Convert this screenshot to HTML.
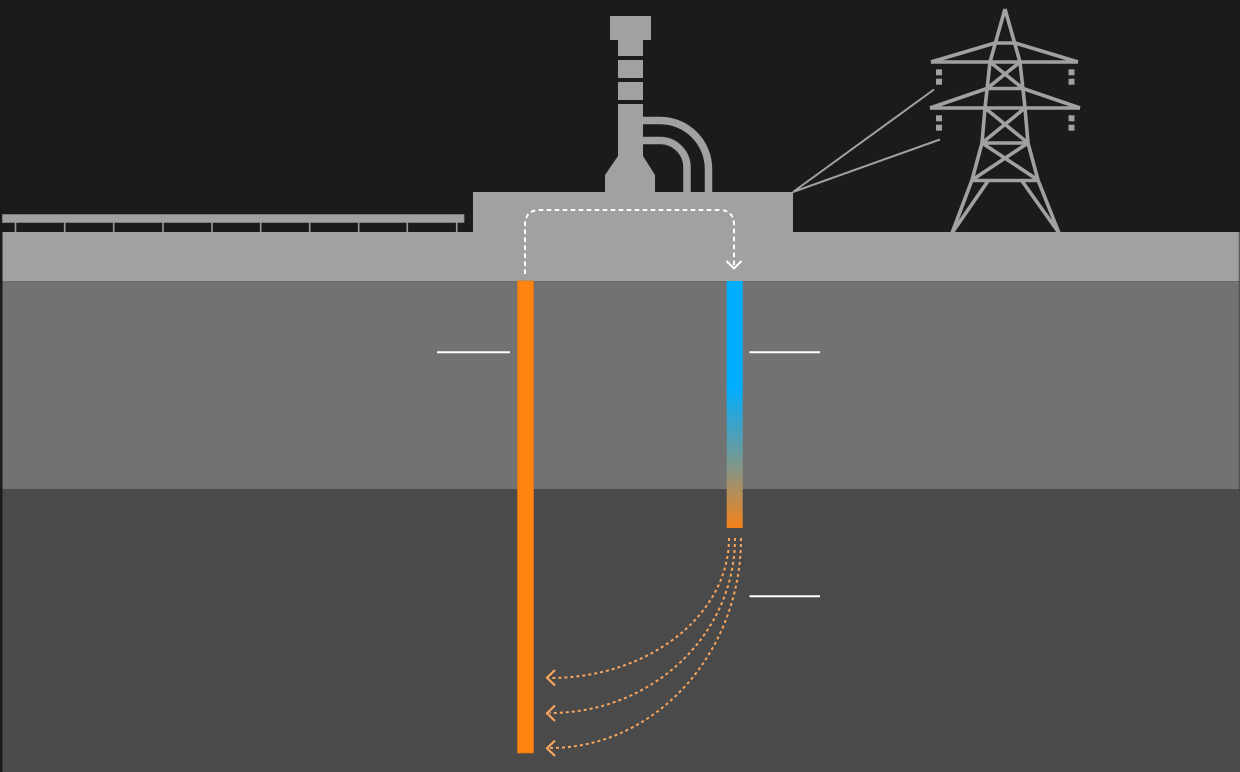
<!DOCTYPE html>
<html><head><meta charset="utf-8"><style>
html,body{margin:0;padding:0;background:#1b1b1b;}
svg{display:block;}
</style></head><body>
<svg width="1240" height="772" viewBox="0 0 1240 772" xmlns="http://www.w3.org/2000/svg">
<defs>
<linearGradient id="bg" x1="0" y1="281" x2="0" y2="528" gradientUnits="userSpaceOnUse">
<stop offset="0" stop-color="#00aeff"/>
<stop offset="0.43" stop-color="#00aeff"/>
<stop offset="0.7" stop-color="#6a9a9e"/>
<stop offset="1" stop-color="#f5821a"/>
</linearGradient>
</defs>
<rect width="1240" height="772" fill="#1b1b1b"/>
<!-- ground layers -->
<rect x="2.5" y="232" width="1237" height="49" fill="#a1a1a1"/>
<rect x="2.5" y="281" width="1237" height="208" fill="#727272"/>
<line x1="2.5" y1="281.5" x2="1239.5" y2="281.5" stroke="#6a6a6a" stroke-width="1"/>
<rect x="2.5" y="489" width="1237" height="283" fill="#4a4a4a"/>
<rect x="1238.5" y="232" width="1.5" height="540" fill="#5a5a5a" opacity="0.5"/>

<!-- solar panels -->
<rect x="2.5" y="214.5" width="461.5" height="8" fill="#a1a1a1" stroke="#888" stroke-width="0.8"/>
<g stroke="#9a9a9a" stroke-width="1.6">
<line x1="15.5" y1="222" x2="15.5" y2="232"/>
<line x1="64.7" y1="222" x2="64.7" y2="232"/>
<line x1="113.7" y1="222" x2="113.7" y2="232"/>
<line x1="163" y1="222" x2="163" y2="232"/>
<line x1="212" y1="222" x2="212" y2="232"/>
<line x1="260.7" y1="222" x2="260.7" y2="232"/>
<line x1="309.7" y1="222" x2="309.7" y2="232"/>
<line x1="358.7" y1="222" x2="358.7" y2="232"/>
<line x1="407.3" y1="222" x2="407.3" y2="232"/>
<line x1="456.7" y1="222" x2="456.7" y2="232"/>
</g>

<!-- power plant -->
<rect x="473" y="192" width="320" height="41" fill="#a1a1a1"/>
<rect x="610" y="16" width="41" height="24" fill="#a1a1a1"/>
<rect x="618" y="40" width="25" height="16" fill="#a1a1a1"/>
<rect x="618" y="60" width="25" height="18" fill="#a1a1a1"/>
<rect x="618" y="82" width="25" height="18" fill="#a1a1a1"/>
<polygon points="618,104 643,104 643,156 655,175 655,193 605,193 605,175 618,156" fill="#a1a1a1"/>
<path d="M642,120.5 H660 A48.5,48.5 0 0 1 708.5,169 V193" fill="none" stroke="#a1a1a1" stroke-width="7.5"/>
<path d="M642,140.5 H660 A27,27 0 0 1 687,167.5 V193" fill="none" stroke="#a1a1a1" stroke-width="7.5"/>

<!-- wires -->
<line x1="793" y1="192" x2="934" y2="89.5" stroke="#a1a1a1" stroke-width="2"/>
<line x1="793" y1="192" x2="940" y2="139.5" stroke="#a1a1a1" stroke-width="2"/>

<!-- pylon -->
<g stroke="#a1a1a1" stroke-width="3.6" fill="none" stroke-linejoin="round" stroke-linecap="butt">
<polyline points="1005,9 990,62 985,108 982,143 972,180 952,233"/>
<polyline points="1005,9 1020,62 1025,108 1028,143 1038,180 1059,233"/>
<line x1="931" y1="62" x2="1078" y2="62"/>
<line x1="931" y1="62" x2="995" y2="43"/>
<line x1="1078" y1="62" x2="1015" y2="43"/>
<line x1="995" y1="43" x2="1015" y2="43"/>
<line x1="930" y1="108" x2="1080" y2="108"/>
<line x1="930" y1="108" x2="987" y2="88.5"/>
<line x1="1080" y1="108" x2="1023" y2="88.5"/>
<line x1="987" y1="88.5" x2="1023" y2="88.5"/>
<line x1="990" y1="62" x2="1023" y2="88.5"/>
<line x1="1020" y1="62" x2="987" y2="88.5"/>
<line x1="985" y1="108" x2="1028" y2="143"/>
<line x1="1025" y1="108" x2="982" y2="143"/>
<line x1="982" y1="143" x2="1028" y2="143"/>
<line x1="982" y1="143" x2="1038" y2="180"/>
<line x1="1028" y1="143" x2="972" y2="180"/>
<line x1="972" y1="180.5" x2="1038" y2="180.5"/>
<line x1="988" y1="181" x2="952" y2="233"/>
<line x1="1022" y1="181" x2="1059" y2="233"/>
</g>
<g fill="#a1a1a1">
<rect x="936" y="69.3" width="6" height="6"/>
<rect x="936" y="78.7" width="6" height="6"/>
<rect x="1068.5" y="69.3" width="6" height="6"/>
<rect x="1068.5" y="78.7" width="6" height="6"/>
<rect x="936" y="115.3" width="6" height="6"/>
<rect x="936" y="124.7" width="6" height="6"/>
<rect x="1068.5" y="115.3" width="6" height="6"/>
<rect x="1068.5" y="124.7" width="6" height="6"/>
</g>

<!-- dashed white arrow -->
<path d="M525,274 V225 Q525,210 540,210 H719 Q734,210 734,225 V268" fill="none" stroke="#ffffff" stroke-width="2" stroke-dasharray="4.5,3.5"/>
<polyline points="726.5,261 734,268.5 741.5,261" fill="none" stroke="#ffffff" stroke-width="2"/>

<!-- pipes -->
<rect x="517.5" y="281" width="16" height="472" fill="#ff8510" stroke="#d9761a" stroke-width="0.8"/>
<rect x="726.7" y="281" width="16" height="247" fill="url(#bg)"/>

<!-- label ticks -->
<g stroke="#ffffff" stroke-width="2">
<line x1="437" y1="352.3" x2="510" y2="352.3"/>
<line x1="749.5" y1="352.3" x2="820" y2="352.3"/>
<line x1="749.5" y1="596.3" x2="820" y2="596.3"/>
</g>

<!-- orange dotted flow arrows -->
<g fill="none" stroke="#f7a55e" stroke-width="2" stroke-dasharray="3,3">
<path d="M729,538 C729,615 649,678 550,678"/>
<path d="M735,538 C735,635 652,713 550,713"/>
<path d="M741,538 C741,654 655,748 550,748"/>
</g>
<g fill="none" stroke="#f7a55e" stroke-width="2.2">
<polyline points="555,670 547,677.7 555,685.5"/>
<polyline points="555,705.5 547,713.3 555,721"/>
<polyline points="555,740.5 547,748.3 555,756"/>
</g>
</svg>
</body></html>
